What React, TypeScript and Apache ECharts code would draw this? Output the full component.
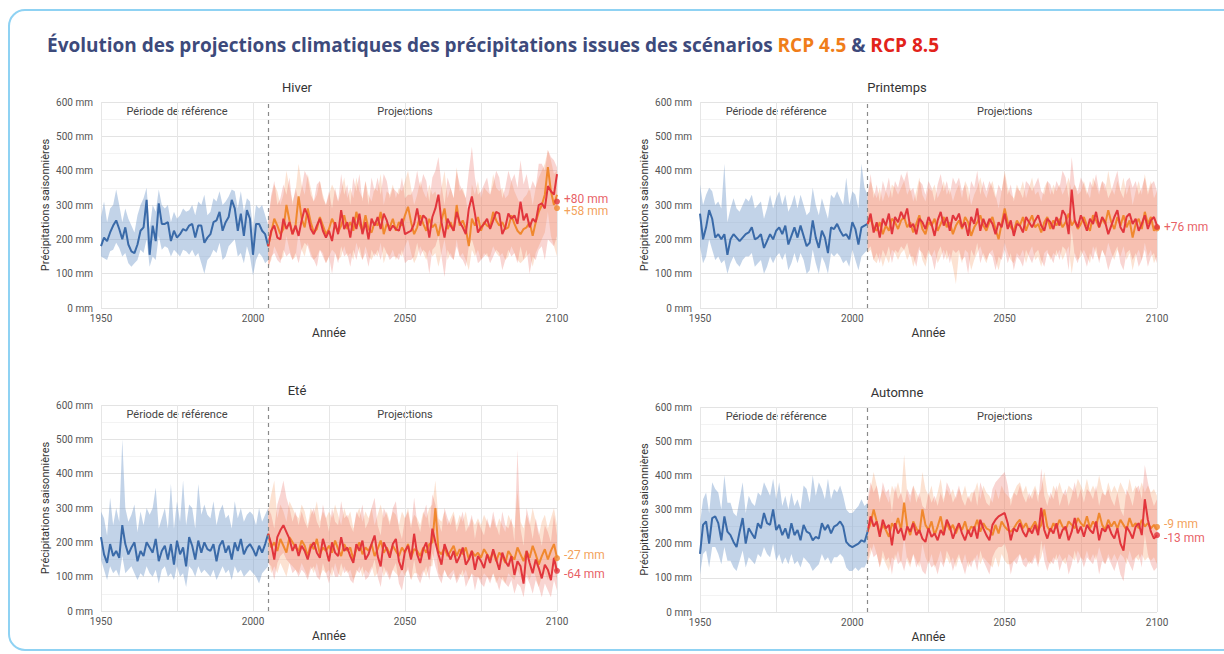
import React, { useEffect, useRef } from 'react';
import * as echarts from 'echarts';

// ---------- axis categories ----------
const YEARS: string[] = Array.from({ length: 151 }, (_, i) => String(1950 + i));
const Y_TICKS_MM = [0, 100, 200, 300, 400, 500, 600];

// ---------- HIVER ----------
const hiverHistMean = [180,205,195,220,240,255,230,200,235,185,165,160,185,225,235,315,155,240,195,305,245,245,250,195,225,205,215,230,225,240,245,205,240,240,190,205,215,250,255,280,225,250,265,315,290,225,275,210,285,260,155,245,245,225,215,180];
const hiverHistLow = [150,145,140,165,170,190,175,150,160,130,120,130,140,170,160,200,120,150,140,210,170,180,175,150,170,160,150,170,165,155,170,150,160,130,100,140,150,170,160,190,140,150,180,190,200,150,160,130,180,150,95,140,160,150,130,140];
const hiverHistHigh = [265,310,250,290,300,345,300,250,290,260,240,220,270,300,320,350,230,300,280,345,300,290,300,250,280,260,270,290,280,285,300,270,310,300,330,270,280,320,310,340,300,310,325,345,340,290,340,280,320,310,230,300,290,300,270,240];
const hiverRcp85Mean = [180,225,240,205,200,260,230,250,215,240,210,255,290,270,230,215,240,260,225,205,225,195,250,215,285,230,250,205,265,230,275,215,250,200,260,240,265,230,275,255,225,240,230,225,260,215,220,225,245,290,240,270,260,205,265,290,330,250,205,260,240,225,280,250,235,215,290,325,275,220,235,245,260,230,255,280,275,215,235,275,260,270,245,310,255,275,235,260,250,300,305,290,355,340,330,390];
const hiverRcp85Low = [110,150,160,140,130,170,150,160,140,160,130,170,190,180,150,140,120,170,150,130,150,100,160,130,180,150,160,120,170,140,180,140,160,120,170,150,170,140,180,160,140,150,150,140,170,130,140,140,150,190,150,170,160,100,170,180,210,150,90,170,150,140,180,150,140,120,180,200,170,130,140,150,160,130,150,170,160,110,140,170,150,160,130,180,140,170,100,150,140,170,180,140,200,190,180,210];
const hiverRcp85High = [260,330,370,300,320,360,330,380,300,350,310,350,400,380,330,310,360,370,320,300,340,290,350,310,390,330,360,300,380,340,390,310,370,300,380,340,380,330,390,370,320,350,340,330,380,320,330,330,350,400,350,390,370,310,380,400,440,360,300,380,350,320,400,360,340,320,400,470,380,330,340,360,380,330,360,400,380,320,350,400,370,390,350,430,360,390,340,370,350,420,420,400,460,440,430,410];
const hiverRcp45Mean = [180,220,260,240,215,230,300,255,215,240,325,260,235,290,250,220,230,265,240,215,230,260,240,220,240,270,230,250,225,280,245,225,270,230,220,250,240,280,215,245,235,260,225,250,240,270,295,250,215,235,270,245,225,260,235,245,210,255,290,230,250,225,300,240,255,230,180,260,240,265,225,250,240,235,280,255,240,250,230,235,270,245,225,215,230,235,250,210,250,280,300,330,410,340,300,330];
const hiverRcp45Low = [120,140,180,160,140,150,210,170,140,150,220,170,150,190,160,140,150,170,160,130,150,170,160,140,150,180,150,160,140,190,160,140,180,150,140,160,150,190,130,160,150,170,140,160,150,180,200,160,130,150,180,160,140,170,150,160,120,160,200,140,160,140,200,150,160,140,110,170,150,170,140,160,150,150,180,160,150,160,140,150,180,160,140,130,140,150,160,120,160,180,200,220,280,210,180,150];
const hiverRcp45High = [250,320,360,340,300,330,400,350,310,340,420,360,330,390,350,310,330,370,330,300,330,360,340,310,340,380,320,350,320,380,340,320,370,330,310,350,340,390,300,340,330,360,320,350,340,370,400,350,300,330,370,340,320,360,330,340,300,350,400,320,350,320,410,340,350,320,260,360,330,370,320,350,340,330,390,350,340,350,320,330,370,340,320,300,320,330,350,300,350,380,400,420,460,430,390,400];

// ---------- PRINTEMPS ----------
const printempsHistMean = [275,200,235,285,260,205,215,200,215,155,200,215,205,195,205,215,220,235,200,205,215,175,195,215,200,225,235,215,240,185,210,235,205,240,210,180,190,255,205,175,225,205,160,235,230,245,225,210,215,200,250,230,185,235,240,245];
const printempsHistLow = [180,130,150,200,170,140,150,130,140,100,130,150,130,120,140,150,150,160,120,130,140,100,120,150,130,150,160,140,160,110,130,160,130,160,140,100,110,170,130,100,150,130,100,160,150,160,150,130,140,120,170,140,110,150,160,170];
const printempsHistHigh = [360,300,330,350,340,300,310,290,420,250,290,320,290,280,300,320,310,330,290,300,310,260,290,330,290,320,340,300,330,280,300,330,290,330,300,270,280,350,300,270,320,290,260,330,320,340,320,300,380,300,340,330,290,420,350,330];
const printempsRcp85Mean = [245,275,220,250,205,260,240,275,215,265,250,280,260,290,235,245,215,260,250,230,265,245,210,255,280,240,265,225,270,255,275,235,250,210,265,245,290,225,260,235,260,245,215,250,235,275,230,255,210,245,240,220,265,250,235,255,270,240,225,260,250,230,265,240,285,270,215,345,255,235,270,250,225,260,245,280,235,265,250,215,240,265,285,235,220,265,275,245,260,225,245,270,230,255,265,240];
const printempsRcp85Low = [170,180,140,160,130,170,150,180,130,170,160,180,170,190,150,150,120,170,160,140,170,150,110,160,180,140,170,130,170,160,170,140,150,100,170,150,190,130,160,140,160,150,110,150,140,170,130,160,110,150,140,120,170,150,130,160,170,140,120,160,150,130,170,140,180,170,110,230,150,130,170,150,120,160,140,180,130,170,150,110,140,160,180,130,110,160,170,140,160,120,140,170,120,150,160,130];
const printempsRcp85High = [330,390,320,360,310,370,340,380,320,370,350,390,370,400,340,350,310,370,360,330,370,350,310,360,390,340,370,330,380,360,380,340,360,310,370,350,400,330,370,340,370,350,320,360,340,390,330,360,310,350,340,320,370,360,340,360,380,340,330,370,360,330,370,350,400,380,320,440,360,340,380,360,330,370,350,390,340,370,360,320,340,370,400,340,320,370,380,350,370,330,350,380,330,360,370,340];
const printempsRcp45Mean = [245,260,235,225,250,215,240,225,260,250,230,255,265,235,250,220,245,270,230,215,250,240,260,225,245,265,235,250,215,240,255,230,265,250,210,235,250,270,240,225,250,265,230,200,245,290,250,235,225,255,240,265,225,250,270,235,245,220,250,265,230,255,240,260,235,250,275,240,255,230,245,265,240,225,270,255,235,260,245,285,250,230,265,240,270,235,255,205,245,260,230,280,245,265,225,240];
const printempsRcp45Low = [160,170,140,130,160,120,150,130,170,160,140,160,170,140,160,120,150,180,140,120,160,150,170,130,150,170,140,160,120,70,160,130,170,160,110,140,160,180,150,130,160,170,140,110,150,190,160,140,130,160,150,170,130,160,180,140,150,120,160,170,140,160,150,170,140,160,180,100,160,140,150,170,150,130,180,160,140,170,150,190,160,140,170,150,180,140,160,110,150,170,140,190,150,170,130,150];
const printempsRcp45High = [330,370,340,320,350,310,340,320,360,350,330,350,370,330,350,310,340,380,330,310,350,340,360,320,340,370,330,350,310,340,360,320,370,350,300,330,350,380,340,320,350,370,330,290,340,400,350,330,320,360,340,370,320,350,380,330,340,310,350,370,330,360,340,360,330,350,380,340,360,330,340,370,340,320,380,360,330,370,340,400,350,330,370,340,380,330,360,300,340,370,330,390,340,370,320,340];

// ---------- ETE ----------
const eteHistMean = [215,165,140,195,160,175,155,250,195,165,185,200,145,175,160,200,185,170,210,145,175,190,150,195,135,205,165,185,130,215,190,150,205,170,200,180,175,195,145,190,205,170,190,150,200,175,210,165,185,195,180,160,190,170,195,225];
const eteHistLow = [150,120,90,130,110,120,100,160,110,120,130,110,90,110,100,130,110,100,120,80,120,130,100,110,90,130,100,110,70,130,120,100,130,110,120,110,100,120,90,110,130,110,120,90,130,110,120,100,110,120,110,100,80,110,120,130];
const eteHistHigh = [290,270,220,330,250,300,260,500,300,260,280,310,230,290,250,300,280,300,360,240,270,300,240,370,240,320,260,380,250,310,300,240,370,280,310,280,270,320,250,290,310,270,280,240,320,270,300,260,280,290,280,250,300,260,280,300];
const eteRcp85Mean = [225,195,150,215,235,250,230,210,175,195,160,190,175,150,185,200,170,155,210,180,145,200,170,160,215,175,185,160,140,195,175,205,150,165,195,220,160,130,200,180,155,195,210,145,120,175,190,150,225,165,140,180,200,150,240,200,165,135,195,170,150,175,140,160,185,135,150,175,120,160,145,125,165,140,180,150,120,170,145,130,160,105,145,130,80,175,140,110,150,125,95,135,120,90,155,115];
const eteRcp85Low = [140,130,90,140,160,170,150,140,110,120,100,120,110,90,120,130,100,90,140,110,80,130,100,100,140,110,120,90,80,120,110,130,90,100,120,150,100,70,130,110,90,120,140,80,60,110,120,90,150,100,80,110,130,90,170,130,100,80,120,100,90,110,80,100,120,70,90,110,60,100,80,70,100,80,110,90,60,100,80,70,90,50,80,70,40,100,80,50,90,70,40,80,60,40,90,60];
const eteRcp85High = [300,280,240,310,340,380,330,300,260,290,250,290,260,240,280,300,260,240,310,270,230,300,260,250,320,270,280,250,230,290,270,310,240,260,300,330,250,220,300,280,250,300,320,240,210,270,290,240,330,260,230,280,310,240,340,310,260,230,300,270,250,280,230,260,290,230,250,280,210,260,240,220,270,240,290,250,220,290,250,240,270,200,470,240,190,300,260,210,270,230,190,250,230,200,280,220];
const eteRcp45Mean = [225,185,200,175,210,190,170,215,200,185,175,205,190,160,195,180,210,165,185,175,190,170,205,180,160,195,175,185,150,180,200,165,185,175,195,160,180,205,170,185,165,190,175,160,185,170,195,155,180,175,160,185,170,195,200,300,175,165,185,160,175,190,160,180,165,185,150,175,160,170,155,180,165,150,175,145,170,160,140,175,160,150,185,165,145,175,155,190,165,135,160,180,150,175,195,155];
const eteRcp45Low = [150,110,130,110,140,120,100,140,130,120,110,140,120,100,130,110,140,100,120,110,120,100,140,110,100,130,110,120,90,110,130,100,120,110,130,100,110,140,100,120,100,120,110,100,120,100,130,90,110,110,100,120,100,130,130,200,110,100,120,100,110,120,90,110,100,120,90,110,100,100,90,110,100,90,110,80,100,90,80,110,100,90,120,100,80,110,90,120,100,70,100,110,90,110,120,90];
const eteRcp45High = [290,340,380,270,310,290,260,320,300,280,270,310,290,250,300,280,320,260,290,270,290,270,310,280,250,300,270,290,240,280,300,260,290,270,300,250,280,310,270,290,260,290,280,250,290,270,300,250,280,270,250,290,270,300,310,380,270,260,290,250,270,290,250,280,260,290,240,270,250,270,250,280,260,240,270,240,270,250,230,280,260,240,350,260,240,280,250,300,260,220,260,280,240,270,300,250];

// ---------- AUTOMNE ----------
const automneHistMean = [170,255,265,200,275,280,260,210,280,235,225,205,190,235,275,200,245,230,215,260,245,290,260,255,300,240,255,225,245,215,260,225,240,210,255,235,230,210,220,215,260,240,255,230,250,255,265,250,205,195,190,195,200,210,205,235];
const automneHistLow = [110,170,180,130,190,190,170,140,190,150,150,130,120,150,180,130,160,150,140,170,160,190,170,160,200,150,170,140,160,140,170,140,150,130,160,150,140,120,130,140,170,150,160,140,160,160,170,160,130,120,120,130,120,130,130,150];
const automneHistHigh = [260,330,350,290,380,360,350,300,400,320,320,290,280,330,380,290,340,320,310,350,340,380,360,340,390,330,380,310,340,300,350,310,330,300,370,360,320,400,340,380,360,330,390,330,360,350,370,340,300,290,290,300,310,330,310,320];
const automneRcp85Mean = [235,280,250,265,220,270,245,255,195,260,230,245,210,250,235,260,225,240,215,205,245,220,230,210,240,225,270,250,215,240,260,230,210,240,220,250,215,270,245,225,210,255,270,280,285,290,260,210,245,235,260,235,220,245,230,255,225,305,240,215,245,230,260,215,240,250,210,235,275,230,250,220,255,240,230,265,210,245,235,255,230,215,245,200,180,250,235,215,250,260,225,330,270,235,215,225];
const automneRcp85Low = [150,190,160,170,130,180,150,160,110,170,140,150,120,160,140,170,130,150,120,110,150,130,140,110,150,130,180,160,120,150,170,140,110,150,130,160,120,180,150,130,110,160,180,190,190,200,170,110,150,140,170,140,130,150,140,160,130,210,150,120,150,140,170,120,150,160,110,140,180,140,160,130,160,150,140,170,110,150,140,160,140,120,150,110,90,160,140,120,160,170,130,230,170,140,120,130];
const automneRcp85High = [330,380,350,370,320,380,350,360,290,370,330,350,310,360,340,370,320,350,310,300,350,320,340,310,350,320,380,360,320,340,370,330,310,340,320,360,310,380,350,320,310,360,380,390,400,410,370,310,350,340,370,340,320,350,330,360,320,420,340,310,350,330,370,310,340,360,310,340,380,330,360,320,360,350,330,370,310,350,340,360,330,310,350,300,280,360,340,310,360,370,330,430,380,340,310,330];
const automneRcp45Mean = [235,260,300,265,230,255,240,220,260,245,275,240,320,250,225,265,245,230,300,255,240,265,225,250,280,235,260,240,255,230,255,240,265,230,250,245,270,235,260,245,240,225,255,230,265,250,240,235,245,260,270,245,260,235,250,265,240,255,300,250,235,260,245,270,250,240,265,255,245,275,260,250,280,245,265,250,290,255,240,270,250,265,245,270,255,240,275,250,260,245,270,250,260,245,255,240];
const automneRcp45Low = [140,170,200,170,130,160,140,120,160,150,180,140,220,150,130,170,150,130,200,160,140,170,130,150,180,140,160,140,160,130,160,140,170,130,150,150,170,140,160,150,140,130,160,130,170,150,140,140,150,160,170,150,160,140,150,170,140,160,200,150,140,160,150,170,150,140,170,160,150,180,160,150,180,150,170,150,190,160,140,170,150,170,150,170,160,140,180,150,160,150,170,150,160,150,160,140];
const automneRcp45High = [320,360,410,370,330,360,340,320,370,350,380,340,460,350,320,370,350,330,410,360,340,370,320,350,390,330,360,340,360,330,360,340,370,330,350,350,380,330,370,350,340,320,360,330,370,350,340,330,350,370,380,350,370,330,350,370,340,360,410,350,330,370,350,380,350,340,370,360,350,390,370,350,390,350,370,350,400,360,340,380,350,370,350,380,360,340,390,350,370,350,380,350,370,350,360,340];

// ---------- end-of-century markers ----------
const PANEL_NAMES = ['Hiver', 'Printemps', 'Eté', 'Automne'];
const END_RCP45 = [291, 232, 154, 249];
const END_RCP85 = [310, 236, 117, 225];
const END_LABEL_RCP45 = ['+58 mm', '', '-27 mm', '-9 mm'];
const END_LABEL_RCP85 = ['+80 mm', '+76 mm', '-64 mm', '-13 mm'];

const PANELS = [
  { histMean: hiverHistMean, histLow: hiverHistLow, histHigh: hiverHistHigh, r45: hiverRcp45Mean, r45Low: hiverRcp45Low, r45High: hiverRcp45High, r85: hiverRcp85Mean, r85Low: hiverRcp85Low, r85High: hiverRcp85High },
  { histMean: printempsHistMean, histLow: printempsHistLow, histHigh: printempsHistHigh, r45: printempsRcp45Mean, r45Low: printempsRcp45Low, r45High: printempsRcp45High, r85: printempsRcp85Mean, r85Low: printempsRcp85Low, r85High: printempsRcp85High },
  { histMean: eteHistMean, histLow: eteHistLow, histHigh: eteHistHigh, r45: eteRcp45Mean, r45Low: eteRcp45Low, r45High: eteRcp45High, r85: eteRcp85Mean, r85Low: eteRcp85Low, r85High: eteRcp85High },
  { histMean: automneHistMean, histLow: automneHistLow, histHigh: automneHistHigh, r45: automneRcp45Mean, r45Low: automneRcp45Low, r45High: automneRcp45High, r85: automneRcp85Mean, r85Low: automneRcp85Low, r85High: automneRcp85High },
];

// ---------- styling ----------
const GRIDS = [
  { left: 101, top: 102, width: 456, height: 206 },
  { left: 700, top: 102, width: 457, height: 206 },
  { left: 101, top: 405, width: 456, height: 206 },
  { left: 700, top: 407, width: 457, height: 205 },
];
const PANEL_TITLE_X = [297, 897, 297, 897];

const BLUE = '#3a6aa8';
const ORANGE = '#f0882e';
const RED = '#e2353c';
const BLUE_BAND = 'rgba(120,158,205,0.45)';
const ORANGE_BAND = 'rgba(245,150,95,0.28)';
const RED_BAND = 'rgba(235,105,95,0.28)';
const FONT = 'Roboto, "Noto Sans", sans-serif';

const HIST_START = 0; // 1950
const PROJ_START = 55; // 2005

const padHist = (arr: number[]) => YEARS.map((_, i) => (i >= HIST_START && i - HIST_START < arr.length ? arr[i - HIST_START] : '-'));
const padProj = (arr: number[]) => YEARS.map((_, i) => (i >= PROJ_START && i - PROJ_START < arr.length ? arr[i - PROJ_START] : '-'));
const diff = (hi: number[], lo: number[]) => hi.map((v, i) => v - lo[i]);

function bandSeries(i: number, id: string, lo: number[], hi: number[], pad: (a: number[]) => any[], color: string) {
  return [
    {
      type: 'line', xAxisIndex: i, yAxisIndex: i, stack: id + i, data: pad(lo),
      symbol: 'none', silent: true, lineStyle: { width: 0, opacity: 0 }, z: 1,
    },
    {
      type: 'line', xAxisIndex: i, yAxisIndex: i, stack: id + i, data: pad(diff(hi, lo)),
      symbol: 'none', silent: true, lineStyle: { width: 0, opacity: 0 },
      areaStyle: { color, opacity: 1 }, z: 1,
    },
  ];
}

function buildOption() {
  const series: any[] = [];
  PANELS.forEach((p, i) => {
    series.push(...bandSeries(i, 'h', p.histLow, p.histHigh, padHist, BLUE_BAND));
    series.push(...bandSeries(i, 'o', p.r45Low, p.r45High, padProj, ORANGE_BAND));
    series.push(...bandSeries(i, 'r', p.r85Low, p.r85High, padProj, RED_BAND));
    series.push({
      type: 'line', xAxisIndex: i, yAxisIndex: i, data: padHist(p.histMean), symbol: 'none',
      lineStyle: { color: BLUE, width: 2 }, z: 3, silent: true,
      markLine: {
        silent: true, symbol: ['none', 'none'], label: { show: false },
        lineStyle: { color: '#8a8a8a', type: [4, 4], width: 1.2 },
        data: [{ xAxis: '2005' }],
      },
    });
    series.push({
      type: 'line', xAxisIndex: i, yAxisIndex: i, data: padProj(p.r45), symbol: 'none',
      lineStyle: { color: ORANGE, width: 2 }, z: 3, silent: true,
    });
    series.push({
      type: 'line', xAxisIndex: i, yAxisIndex: i, data: padProj(p.r85), symbol: 'none',
      lineStyle: { color: RED, width: 2 }, z: 4, silent: true,
    });
    series.push({
      type: 'scatter', xAxisIndex: i, yAxisIndex: i, symbolSize: 6, z: 6, silent: true,
      data: [
        {
          value: ['2100', END_RCP45[i]], itemStyle: { color: ORANGE },
          label: {
            show: END_LABEL_RCP45[i] !== '', formatter: END_LABEL_RCP45[i], color: ORANGE,
            offset: [0, END_RCP45[i] < END_RCP85[i] ? 3 : -3],
          },
        },
        {
          value: ['2100', END_RCP85[i]], itemStyle: { color: RED },
          label: {
            show: true, formatter: END_LABEL_RCP85[i], color: RED,
            offset: [0, END_LABEL_RCP45[i] === '' ? 0 : END_RCP85[i] > END_RCP45[i] ? -3 : 3],
          },
        },
      ],
      label: { position: 'right', distance: 4, fontSize: 12, fontFamily: FONT },
    });
  });

  const graphic: any[] = [
    {
      type: 'rect', z: -10, silent: true,
      shape: { x: 9, y: 10, width: 1240, height: 640, r: 16 },
      style: { fill: '#ffffff', stroke: '#8fd2f3', lineWidth: 2 },
    },
  ];
  GRIDS.forEach((g, i) => {
    graphic.push({
      type: 'text', silent: true, x: PANEL_TITLE_X[i], y: g.top - 15,
      style: { text: PANEL_NAMES[i], align: 'center', verticalAlign: 'middle', fill: '#333', font: '13px ' + FONT },
    });
    const xr = (year: number) => g.left + ((year - 1950) / 150) * g.width;
    graphic.push({
      type: 'text', silent: true, x: xr(1975), y: g.top + 9,
      style: { text: 'Période de référence', align: 'center', verticalAlign: 'middle', fill: '#444', font: '11px ' + FONT },
    });
    graphic.push({
      type: 'text', silent: true, x: xr(2050), y: g.top + 9,
      style: { text: 'Projections', align: 'center', verticalAlign: 'middle', fill: '#444', font: '11px ' + FONT },
    });
  });

  return {
    animation: false,
    backgroundColor: 'transparent',
    textStyle: { fontFamily: FONT },
    title: {
      left: 42, top: 30, padding: 5,
      text: '{a|Évolution des projections climatiques des précipitations issues des scénarios }{b|RCP 4.5}{a| & }{c|RCP 8.5}',
      textStyle: {
        rich: {
          a: { fontFamily: '"Open Sans", sans-serif', fontWeight: 700, fontSize: 19, color: '#3d4a7b' },
          b: { fontFamily: '"Open Sans", sans-serif', fontWeight: 700, fontSize: 19, color: '#f07d19' },
          c: { fontFamily: '"Open Sans", sans-serif', fontWeight: 700, fontSize: 19, color: '#e2231a' },
        },
      },
    },
    graphic,
    grid: GRIDS.map((g) => ({ ...g, containLabel: false })),
    xAxis: GRIDS.map((_, i) => ({
      type: 'category', gridIndex: i, data: YEARS, boundaryGap: false,
      name: 'Année', nameLocation: 'middle', nameGap: 19,
      nameTextStyle: { fontSize: 12, color: '#333', fontFamily: FONT },
      axisLine: { show: false }, axisTick: { show: false },
      axisLabel: {
        interval: (idx: number) => idx % 50 === 0,
        fontSize: 10, color: '#555', margin: 5, fontFamily: FONT,
      },
      splitLine: { show: true, interval: (idx: number) => idx % 25 === 0, lineStyle: { color: '#e6e6e6', width: 1 } },
    })),
    yAxis: GRIDS.map((_, i) => ({
      type: 'value', gridIndex: i, min: Y_TICKS_MM[0], max: Y_TICKS_MM[Y_TICKS_MM.length - 1], interval: 100,
      name: 'Précipitations saisonnières', nameLocation: 'middle', nameGap: 50,
      nameTextStyle: { fontSize: 11, color: '#333', fontFamily: FONT },
      axisLine: { show: false }, axisTick: { show: false },
      axisLabel: { formatter: '{value} mm', fontSize: 10, color: '#555', margin: 8, fontFamily: FONT },
      splitLine: { show: true, lineStyle: { color: '#e3e3e3', width: 1 } },
      minorTick: { show: false, splitNumber: 2 },
      minorSplitLine: { show: true, lineStyle: { color: '#f3f3f3', width: 1 } },
    })),
    series,
  };
}

export default function App() {
  const ref = useRef<HTMLDivElement>(null);
  useEffect(() => {
    if (!ref.current) return;
    const chart = echarts.init(ref.current, null, { renderer: 'svg' });
    chart.setOption(buildOption() as any);
    return () => chart.dispose();
  }, []);
  return (
    <div
      ref={ref}
      style={{ position: 'absolute', left: 0, top: 0, width: 1224, height: 654, background: '#ffffff' }}
    />
  );
}
